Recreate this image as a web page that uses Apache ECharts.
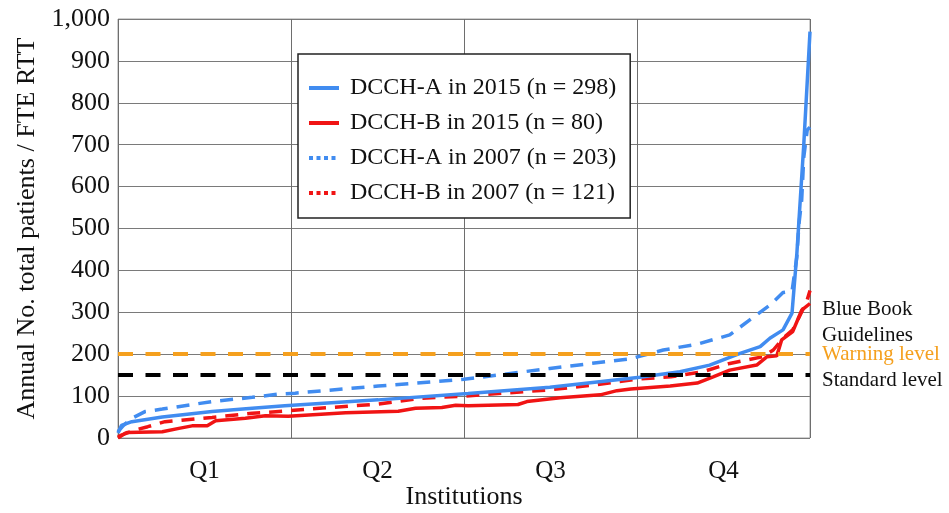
<!DOCTYPE html>
<html><head><meta charset="utf-8">
<script src="https://cdn.jsdelivr.net/npm/echarts@6/dist/echarts.min.js"></script>
<style>html,body{margin:0;padding:0;background:#fff}#c{width:949px;height:513px}</style>
</head><body><div id="c"></div>
<script>
// Quartile categories
const quartiles = ['Q1', 'Q2', 'Q3', 'Q4'];
const yTicks = [0, 100, 200, 300, 400, 500, 600, 700, 800, 900, 1000];

// Institution rank (percentile of institutions) and values
const pctA15 = [0, 0.5, 2.0, 6.4, 13.6, 19.4, 24.1, 37.6, 50.6, 62.4, 75.4, 81.2, 85.5, 89.9, 92.8, 94.2, 96.1, 97.4, 98.1, 99.1, 100];
const valA15 = [12, 30, 39, 50, 63, 71, 77, 91, 106, 121, 145, 158, 174, 202, 218, 238, 258, 298, 440, 700, 970];

const pctB15 = [0, 1.0, 1.3, 6.4, 8.8, 10.7, 12.9, 14.1, 18.4, 21.3, 24.6, 32.9, 40.5, 43.0, 46.8, 48.8, 50.6, 57.8, 59.1, 63.9, 69.7, 72.1, 74.1, 79.8, 83.7, 86.0, 88.4, 92.3, 93.8, 95.2, 95.9, 97.5, 98.8, 100];
const valB15 = [0, 11, 13, 15, 23, 29, 29, 41, 47, 53, 52, 60, 64, 71, 73, 78, 77, 80, 87, 96, 103, 113, 117, 124, 131, 146, 162, 174, 194, 196, 234, 254, 305, 321];

const pctA07 = [0, 0.8, 2.0, 3.9, 6.4, 13.6, 19.4, 23.3, 25.6, 37.6, 50.0, 62.4, 74.0, 78.8, 83.7, 88.4, 91.3, 94.2, 96.1, 97.4, 98.1, 98.4, 98.8, 99.1, 99.6, 100];
const valA07 = [15, 30, 47, 63, 69, 87, 97, 105, 107, 124, 140, 166, 189, 210, 224, 246, 282, 317, 347, 350, 432, 510, 568, 670, 735, 742];

const pctB07 = [0, 0.5, 2.5, 4.3, 6.8, 13.6, 19.4, 24.1, 25.9, 37.6, 43.8, 50.0, 62.4, 68.6, 75.4, 79.9, 84.5, 88.4, 93.2, 94.7, 96.1, 97.5, 98.6, 99.6, 100];
const valB07 = [3, 7, 19, 27, 39, 49, 59, 64, 67, 81, 95, 100, 115, 126, 141, 146, 158, 178, 194, 210, 238, 258, 294, 330, 352];

const warningLevel = 200;
const standardLevel = 150;

const seriesNames = ['DCCH-A in 2015 (n = 298)', 'DCCH-B in 2015 (n = 80)', 'DCCH-A in 2007 (n = 203)', 'DCCH-B in 2007 (n = 121)'];

const zip = (p, v) => p.map((x, i) => [x, v[i]]);
const BLUE = '#418cf0', RED = '#f01414', ORANGE = '#f5a01e';
const FONT = 'Liberation Serif';
const hidden = { opacity: 0 };
const DASH = [13, 9];

const chart = echarts.init(document.getElementById('c'));
chart.setOption({
  animation: false,
  textStyle: { fontFamily: FONT },
  grid: { left: 118, right: 139, top: 19, bottom: 75, show: true, borderColor: '#a0a0a0', borderWidth: 1, outerBoundsMode: 'none', containLabel: false },
  legend: {
    left: 298, top: 54, orient: 'vertical',
    backgroundColor: '#fff', borderColor: '#222', borderWidth: 1.5,
    padding: [22, 14, 13, 9], itemGap: 11, itemWidth: 30, itemHeight: 24,
    textStyle: { fontFamily: FONT, fontSize: 24, color: '#111', padding: [0, 0, 0, 6] },
    data: [
      { name: seriesNames[0], itemStyle: hidden, lineStyle: { width: 4, color: BLUE, type: 'solid' } },
      { name: seriesNames[1], itemStyle: hidden, lineStyle: { width: 4, color: RED, type: 'solid' } },
      { name: seriesNames[2], itemStyle: hidden, lineStyle: { width: 4, color: BLUE, type: [4, 3.5] } },
      { name: seriesNames[3], itemStyle: hidden, lineStyle: { width: 4, color: RED, type: [4, 3.5] } }
    ]
  },
  xAxis: [
    { type: 'value', min: 0, max: 100, show: false },
    {
      type: 'category', data: quartiles, boundaryGap: true, position: 'bottom',
      axisLine: { show: false }, axisTick: { show: false },
      axisLabel: { fontFamily: FONT, fontSize: 25, color: '#111', margin: 21 },
      splitLine: { show: true, lineStyle: { color: '#6e6e6e', width: 1 } },
      name: 'Institutions', nameLocation: 'middle', nameGap: 46, nameMoveOverlap: false,
      nameTextStyle: { fontFamily: FONT, fontSize: 26, color: '#111' }
    }
  ],
  yAxis: {
    type: 'value', min: 0, max: 1000, interval: 100,
    axisLine: { show: false }, axisTick: { show: false },
    axisLabel: {
      fontFamily: FONT, fontSize: 26, color: '#111', margin: 8,
      formatter: v => v >= 1000 ? Math.floor(v / 1000) + ',' + String(v % 1000).padStart(3, '0') : String(v)
    },
    splitLine: { lineStyle: { color: '#7a7a7a', width: 1 } },
    name: 'Annual No. total patients / FTE RTT', nameLocation: 'middle', nameGap: 78, nameMoveOverlap: false,
    nameTextStyle: { fontFamily: FONT, fontSize: 26, color: '#111' }
  },
  series: [
    { name: seriesNames[0], type: 'line', xAxisIndex: 0, symbol: 'none', data: zip(pctA15, valA15), lineStyle: { color: BLUE, width: 3.5 }, itemStyle: { color: BLUE }, z: 4 },
    { name: seriesNames[1], type: 'line', xAxisIndex: 0, symbol: 'none', data: zip(pctB15, valB15), lineStyle: { color: RED, width: 3.5 }, itemStyle: { color: RED }, z: 3 },
    { name: seriesNames[2], type: 'line', xAxisIndex: 0, symbol: 'none', data: zip(pctA07, valA07), lineStyle: { color: BLUE, width: 3.5, type: DASH }, itemStyle: { color: BLUE }, z: 2 },
    { name: seriesNames[3], type: 'line', xAxisIndex: 0, symbol: 'none', data: zip(pctB07, valB07), lineStyle: { color: RED, width: 3.5, type: DASH }, itemStyle: { color: RED }, z: 2 },
    {
      name: 'levels', type: 'line', xAxisIndex: 0, data: [], z: 5,
      markLine: {
        silent: true, symbol: 'none',
        data: [
          { yAxis: warningLevel, lineStyle: { color: ORANGE, width: 4, type: [15, 12.5] },
            label: { show: true, position: 'end', formatter: 'Warning level', color: ORANGE, fontFamily: FONT, fontSize: 21, distance: 12 } },
          { yAxis: standardLevel, lineStyle: { color: '#000', width: 4, type: [15, 12.5] },
            label: { show: true, position: 'end', formatter: 'Standard level', color: '#111', fontFamily: FONT, fontSize: 21, distance: 12, offset: [0, 5] } }
        ]
      }
    }
  ],
  graphic: [
    { type: 'text', left: 822, top: 299, style: { text: 'Blue Book', font: '21px "Liberation Serif"', fill: '#111' } },
    { type: 'text', left: 822, top: 325, style: { text: 'Guidelines', font: '21px "Liberation Serif"', fill: '#111' } }
  ]
});
</script></body></html>
